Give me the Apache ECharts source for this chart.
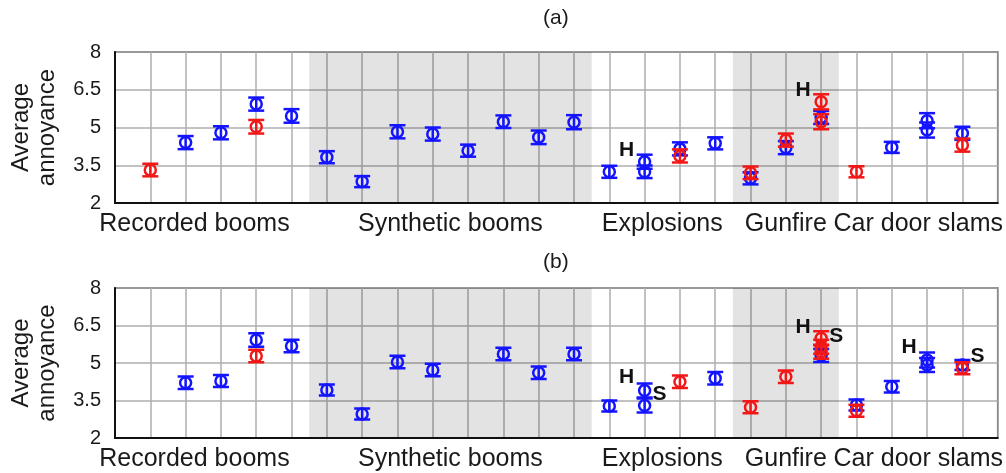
<!DOCTYPE html>
<html>
<head>
<meta charset="utf-8">
<script src="https://cdn.jsdelivr.net/npm/echarts@6/dist/echarts.min.js"></script>
<style>
html,body{margin:0;padding:0;background:#fff;}
#chart{width:1006px;height:473px;}
</style>
</head>
<body>
<div id="chart"></div>
<script>
// ---------- data ----------
const groups = ['Recorded booms', 'Synthetic booms', 'Explosions', 'Gunfire', 'Car door slams'];
const groupFirst = [1, 6, 14, 18, 21];
const groupLast = [5, 13, 17, 20, 24];
const shadedGroups = [1, 3];
const yTicks = [2, 3.5, 5, 6.5, 8];

// panel (a)
const blueA_x    = [2, 3, 4, 5, 6, 7, 8, 9, 10, 11, 12, 13, 14, 15, 15, 16, 17, 18, 19, 20, 22, 23, 23, 24];
const blueA_mean = [4.40, 4.79, 5.93, 5.46, 3.82, 2.85, 4.83, 4.74, 4.08, 5.23, 4.61, 5.21, 3.24, 3.64, 3.24, 4.15, 4.37, 2.98, 4.20, 5.40, 4.21, 5.27, 4.90, 4.77];
const blueA_err  = [0.26, 0.26, 0.26, 0.27, 0.24, 0.22, 0.26, 0.26, 0.24, 0.25, 0.27, 0.28, 0.24, 0.28, 0.25, 0.26, 0.24, 0.24, 0.26, 0.26, 0.22, 0.30, 0.30, 0.26];
const redA_x     = [1, 4, 16, 18, 19, 20, 20, 21, 24];
const redA_mean  = [3.31, 5.03, 3.87, 3.20, 4.50, 6.02, 5.23, 3.24, 4.30];
const redA_err   = [0.25, 0.27, 0.26, 0.25, 0.26, 0.30, 0.30, 0.22, 0.26];
const annotA_x   = [15, 20];
const annotA_y   = [4.11, 6.49];
const annotA_txt = ['H', 'H'];

// panel (b)
const blueB_x    = [2, 3, 4, 5, 6, 7, 8, 9, 11, 12, 13, 14, 15, 15, 17, 20, 21, 22, 23, 23, 24];
const blueB_mean = [4.21, 4.28, 5.92, 5.68, 3.92, 2.96, 5.04, 4.72, 5.36, 4.61, 5.36, 3.28, 3.90, 3.30, 4.39, 5.30, 3.32, 4.05, 5.12, 4.92, 4.92];
const blueB_err  = [0.25, 0.24, 0.27, 0.25, 0.22, 0.22, 0.25, 0.25, 0.25, 0.25, 0.25, 0.22, 0.28, 0.28, 0.25, 0.26, 0.22, 0.23, 0.30, 0.28, 0.20];
const redB_x     = [4, 16, 18, 19, 20, 20, 20, 21, 24];
const redB_mean  = [5.28, 4.25, 3.23, 4.45, 5.99, 5.65, 5.45, 3.09, 4.79];
const redB_err   = [0.25, 0.25, 0.24, 0.25, 0.28, 0.28, 0.28, 0.24, 0.24];
const annotB_x   = [15, 15, 20, 20, 23, 24];
const annotB_y   = [4.44, 3.76, 6.45, 6.08, 5.65, 5.28];
const annotB_txt = ['H', 'S', 'H', 'S', 'H', 'S'];

// ---------- chart ----------
const FONT = "'Liberation Sans', Arial, sans-serif";
const BLUE = '#1414ff';
const RED = '#f21818';
const labelPos = [2.25, 9.5, 15.5, 19, 22.75]; // label placement along the axis (layout)

function pts(xs, ms, es) { return xs.map((x, i) => [x, ms[i], es[i]]); }
function anns(xs, ys, ts) { return xs.map((x, i) => [x, ys[i], ts[i]]); }

function errRender(color) {
  return function (params, api) {
    const x = api.value(0), m = api.value(1), e = api.value(2);
    const c = api.coord([x, m]);
    const t = api.coord([x, m + e]);
    const b = api.coord([x, m - e]);
    const hw = 8, r = 5.5;
    const st = { stroke: color, lineWidth: 2.5, fill: null };
    return {
      type: 'group',
      children: [
        { type: 'line', shape: { x1: c[0], y1: t[1], x2: c[0], y2: b[1] }, style: st },
        { type: 'line', shape: { x1: c[0] - hw, y1: t[1], x2: c[0] + hw, y2: t[1] }, style: st },
        { type: 'line', shape: { x1: c[0] - hw, y1: b[1], x2: c[0] + hw, y2: b[1] }, style: st },
        { type: 'circle', shape: { cx: c[0], cy: c[1], r: r }, style: { stroke: color, lineWidth: 2.5, fill: 'rgba(0,0,0,0)' } }
      ]
    };
  };
}

function makeAnnSeries(list, xi, yi) {
  return {
    type: 'custom', xAxisIndex: xi, yAxisIndex: yi, z: 5,
    data: list.map(a => [a[0], a[1]]),
    renderItem: function (params, api) {
      const idx = params.dataIndexInside;
      const txt = list[idx][2];
      const c = api.coord([api.value(0), api.value(1)]);
      const dx = txt === 'H' ? -18 : 15;
      return {
        type: 'text',
        style: { x: c[0] + dx, y: c[1], text: txt, fill: '#111', font: 'bold 21px ' + FONT, align: 'center', verticalAlign: 'middle' }
      };
    }
  };
}

function shadeSeries(xi, yi) {
  return {
    type: 'line', xAxisIndex: xi, yAxisIndex: yi, data: [], symbol: 'none', silent: true,
    markArea: {
      silent: true,
      itemStyle: { color: 'rgba(0,0,0,0.11)' },
      data: shadedGroups.map(g => [{ xAxis: groupFirst[g] - 0.5 }, { xAxis: groupLast[g] + 0.5 }])
    }
  };
}

function gridXAxis(gi) {
  return {
    gridIndex: gi, type: 'value', min: 0, max: groupLast[groupLast.length - 1] + 1, interval: 1,
    axisLine: { show: true, onZero: false, lineStyle: { color: '#111', width: 2 } },
    axisTick: { show: false }, axisLabel: { show: false },
    splitLine: { show: true, lineStyle: { color: '#aeaeae', width: 1.5 } }
  };
}
function labelXAxis(gi) {
  return {
    gridIndex: gi, type: 'value', position: 'bottom', min: 0, max: groupLast[groupLast.length - 1] + 1, interval: 0.25,
    axisLine: { show: false }, axisTick: { show: false }, splitLine: { show: false },
    axisLabel: {
      show: true, margin: 9, color: '#1a1a1a', fontSize: 25, fontFamily: FONT,
      showMinLabel: true, showMaxLabel: true,
      formatter: function (v) {
        const i = labelPos.findIndex(p => Math.abs(p - v) < 1e-6);
        return i >= 0 ? groups[i] : '';
      }
    }
  };
}
function yAx(gi) {
  return {
    gridIndex: gi, type: 'value', min: yTicks[0], max: yTicks[yTicks.length - 1], interval: yTicks[1] - yTicks[0],
    name: 'Average\nannoyance', nameLocation: 'middle', nameGap: 55, nameRotate: 90,
    nameTextStyle: { fontSize: 24, fontFamily: FONT, color: '#1a1a1a', lineHeight: 26 },
    axisLine: { show: true, lineStyle: { color: '#111', width: 2 } },
    axisTick: { show: false },
    axisLabel: { fontSize: 20, fontFamily: FONT, color: '#1a1a1a', margin: 14 },
    splitLine: { show: true, lineStyle: { color: '#aeaeae', width: 1.5 } }
  };
}

const option = {
  animation: false,
  backgroundColor: '#fff',
  grid: [
    { left: 115, right: 7, top: 52, height: 151, show: true, borderColor: '#222', borderWidth: 1.5, backgroundColor: 'transparent' },
    { left: 115, right: 7, top: 288, height: 150, show: true, borderColor: '#222', borderWidth: 1.5, backgroundColor: 'transparent' }
  ],
  graphic: [
    { type: 'text', left: 543, top: 8, style: { text: '(a)', font: '21px ' + FONT, fill: '#1a1a1a' } },
    { type: 'text', left: 543, top: 252, style: { text: '(b)', font: '21px ' + FONT, fill: '#1a1a1a' } }
  ],
  xAxis: [gridXAxis(0), labelXAxis(0), gridXAxis(1), labelXAxis(1)],
  yAxis: [yAx(0), yAx(1)],
  series: [
    shadeSeries(0, 0),
    shadeSeries(2, 1),
    { type: 'custom', xAxisIndex: 0, yAxisIndex: 0, renderItem: errRender(BLUE), data: pts(blueA_x, blueA_mean, blueA_err), encode: { x: 0, y: 1 }, z: 3 },
    { type: 'custom', xAxisIndex: 0, yAxisIndex: 0, renderItem: errRender(RED), data: pts(redA_x, redA_mean, redA_err), encode: { x: 0, y: 1 }, z: 4 },
    { type: 'custom', xAxisIndex: 2, yAxisIndex: 1, renderItem: errRender(BLUE), data: pts(blueB_x, blueB_mean, blueB_err), encode: { x: 0, y: 1 }, z: 3 },
    { type: 'custom', xAxisIndex: 2, yAxisIndex: 1, renderItem: errRender(RED), data: pts(redB_x, redB_mean, redB_err), encode: { x: 0, y: 1 }, z: 4 },
    makeAnnSeries(anns(annotA_x, annotA_y, annotA_txt), 0, 0),
    makeAnnSeries(anns(annotB_x, annotB_y, annotB_txt), 2, 1)
  ]
};

const chart = echarts.init(document.getElementById('chart'), null, { renderer: 'canvas' });
chart.setOption(option);
</script>
</body>
</html>
